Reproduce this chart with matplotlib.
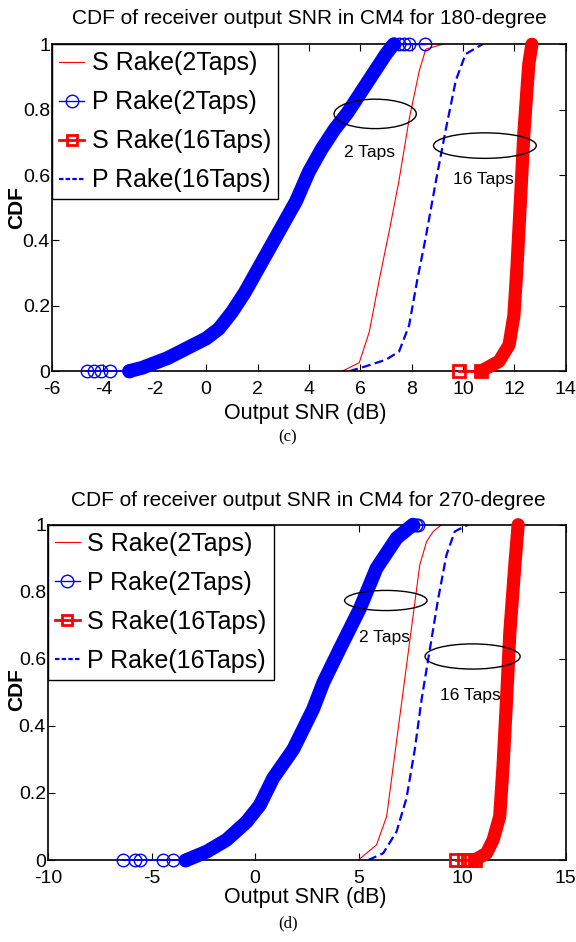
import matplotlib
matplotlib.use("Agg")
import matplotlib.pyplot as plt
from matplotlib.lines import Line2D
from matplotlib.patches import Ellipse

# ---- data (c): 180-degree ----
c_s2_x = [5.3, 5.96, 6.35, 6.74, 7.13, 7.5, 7.9, 8.3, 8.55, 9.2]
c_s2_y = [0, 0.026, 0.12, 0.28, 0.43, 0.58, 0.77, 0.92, 0.985, 1.0]

c_p2_x = [-3.0, -2.5, -2.0, -1.5, -1.0, -0.5, 0.0, 0.5, 1.0, 1.5, 2.0, 2.5,
          3.0, 3.5, 4.0, 4.5, 5.0, 5.5, 6.0, 6.5, 7.0, 7.3]
c_p2_y = [0.0, 0.01, 0.025, 0.04, 0.06, 0.08, 0.10, 0.13, 0.18, 0.24, 0.31,
          0.38, 0.45, 0.52, 0.61, 0.68, 0.74, 0.79, 0.85, 0.91, 0.97, 1.0]
c_p2_low = [-4.65, -4.35, -4.1, -3.75, -3.0]
c_p2_high = [7.3, 7.5, 7.7, 7.9, 8.5]

c_s16_x = [10.7, 11.4, 11.79, 11.98, 12.1, 12.24, 12.37, 12.56, 12.68]
c_s16_y = [0, 0.03, 0.08, 0.17, 0.32, 0.53, 0.73, 0.94, 1.0]
c_s16_low = [9.85, 10.7]

c_p16_x = [5.57, 6.22, 7.0, 7.51, 7.9, 8.22, 8.55, 8.94, 9.33, 9.72, 10.1, 10.75]
c_p16_y = [0, 0.015, 0.035, 0.06, 0.14, 0.28, 0.41, 0.58, 0.74, 0.89, 0.97, 1.0]

# ---- data (d): 270-degree ----
d_s2_x = [4.98, 5.86, 6.35, 6.67, 6.99, 7.31, 7.63, 7.95, 8.28, 8.6, 9.0]
d_s2_y = [0, 0.045, 0.13, 0.28, 0.43, 0.58, 0.73, 0.88, 0.95, 0.98, 1.0]

d_p2_x = [-3.31, -2.34, -1.38, -0.41, 0.23, 0.87, 1.84, 2.8, 3.3, 4.09, 5.06,
          5.86, 6.83, 7.62]
d_p2_y = [0, 0.025, 0.06, 0.114, 0.164, 0.244, 0.33, 0.45, 0.53, 0.63, 0.75,
          0.87, 0.96, 1.0]
d_p2_low = [-6.37, -5.8, -5.56, -4.44, -3.95, -3.39]
d_p2_high = [7.62, 7.75, 7.85]

d_s16_x = [10.6, 11.17, 11.49, 11.81, 11.97, 12.14, 12.3, 12.54, 12.7]
d_s16_y = [0, 0.02, 0.06, 0.13, 0.28, 0.48, 0.68, 0.88, 1.0]
d_s16_low = [9.7, 10.1, 10.4, 10.6]

d_p16_x = [5.46, 6.18, 6.83, 7.31, 7.71, 8.04, 8.44, 8.84, 9.24, 9.64, 10.29]
d_p16_y = [0, 0.02, 0.085, 0.185, 0.33, 0.48, 0.63, 0.78, 0.91, 0.98, 1.0]

labels = ["S Rake(2Taps)", "P Rake(2Taps)", "S Rake(16Taps)", "P Rake(16Taps)"]
y_ticks = [0, 0.2, 0.4, 0.6, 0.8, 1]
y_ticklabels = ["0", "0.2", "0.4", "0.6", "0.8", "1"]

arial = ["Liberation Sans", "DejaVu Sans"]
plt.rcParams["font.family"] = arial


def draw_panel(ax, s2, p2, p2_low, p2_high, s16, s16_low, p16, xlim, xticks,
               notes):
    # thin red line
    ax.plot(s2[0], s2[1], color="red", lw=0.8)
    # blue circle series: sparse tails with circles, dense part as a thick band
    ax.plot(p2_low, [0] * len(p2_low), color="blue", lw=1.2, marker="o",
            mfc="none", ms=9, mew=1.0, clip_on=False, zorder=3)
    ax.plot(p2[0], p2[1], color="blue", lw=10, solid_capstyle="round",
            solid_joinstyle="round", clip_on=False, zorder=3)
    ax.plot(p2_high, [1] * len(p2_high), color="blue", lw=1, marker="o",
            mfc="none", ms=9, mew=1.0, clip_on=False, zorder=3)
    # red square series
    ax.plot(s16_low, [0] * len(s16_low), color="red", lw=2, marker="s",
            mfc="none", ms=8, mew=2, clip_on=False, zorder=3)
    ax.plot(s16[0], s16[1], color="red", lw=9.5, solid_capstyle="round",
            solid_joinstyle="round", clip_on=False, zorder=3)
    # dashed blue
    ax.plot(p16[0], p16[1], color="blue", lw=1.6, ls=(0, (4, 2)))

    for (ex, ey, ew, eh), (tx, ty, tt) in notes:
        ax.add_patch(Ellipse((ex, ey), ew, eh, fill=False, ec="black", lw=1,
                             zorder=4))
        ax.text(tx, ty, tt, ha="center", va="center", fontsize=12.5, zorder=5)

    ax.set_xlim(*xlim)
    ax.set_ylim(0, 1)
    ax.set_xticks(xticks)
    ax.set_xticklabels([str(t) for t in xticks])
    ax.set_yticks(y_ticks)
    ax.set_yticklabels(y_ticklabels)
    ax.tick_params(direction="in", length=5, width=0.8, top=True, right=True,
                   labelsize=14)
    ax.tick_params(axis="x", pad=7)
    ax.tick_params(axis="y", pad=1.5)
    for sp in ax.spines.values():
        sp.set_linewidth(1.2)

    handles = [
        Line2D([], [], color="red", lw=0.8),
        Line2D([], [], color="blue", lw=1, marker="o", mfc="none", ms=9),
        Line2D([], [], color="red", lw=2, marker="s", mfc="none", ms=7, mew=2),
        Line2D([], [], color="blue", lw=1.6, ls=(0, (2, 1))),
    ]
    leg = ax.legend(handles, labels, loc="upper left", bbox_to_anchor=(0, 1),
                    borderaxespad=0, fancybox=False, edgecolor="black",
                    framealpha=1, handlelength=1.0, handletextpad=0.3,
                    labelspacing=0.6, borderpad=0.28,
                    prop={"size": 18})
    leg.get_frame().set_linewidth(1.0)


fig = plt.figure(figsize=(5.76, 9.42), dpi=100)

ax1 = fig.add_axes([0.0903, 0.606, 0.892, 0.347])
draw_panel(ax1, (c_s2_x, c_s2_y), (c_p2_x, c_p2_y), c_p2_low, c_p2_high,
           (c_s16_x, c_s16_y), c_s16_low, (c_p16_x, c_p16_y),
           (-6, 14), list(range(-6, 15, 2)),
           [((6.58, 0.787, 3.2, 0.09), (6.35, 0.669, "2 Taps")),
            ((10.85, 0.69, 4.0, 0.078), (10.81, 0.585, "16 Taps"))])

ax2 = fig.add_axes([0.0833, 0.087, 0.899, 0.356])
draw_panel(ax2, (d_s2_x, d_s2_y), (d_p2_x, d_p2_y), d_p2_low, d_p2_high,
           (d_s16_x, d_s16_y), d_s16_low, (d_p16_x, d_p16_y),
           (-10, 15), list(range(-10, 16, 5)),
           [((6.31, 0.774, 3.98, 0.06), (6.26, 0.663, "2 Taps")),
            ((10.5, 0.607, 4.59, 0.075), (10.37, 0.49, "16 Taps"))])

# titles, axis labels and captions placed as in the reference
fig.text(309 / 576, 1 - 18 / 942, "CDF of receiver output SNR in CM4 for 180-degree",
         ha="center", va="center", fontsize=15)
fig.text(308 / 576, 1 - 500 / 942, "CDF of receiver output SNR in CM4 for 270-degree",
         ha="center", va="center", fontsize=15)
for yy in (208, 690):
    fig.text(17 / 576, 1 - yy / 942, "CDF", rotation=90, ha="center",
             va="center", fontsize=15, fontweight="bold")
fig.text(305 / 576, 1 - 413 / 942, "Output SNR (dB)", ha="center", va="center",
         fontsize=15.5)
fig.text(305 / 576, 1 - 897 / 942, "Output SNR (dB)", ha="center", va="center",
         fontsize=15.5)
fig.text(288 / 576, 1 - 437 / 942, "(c)", ha="center", va="center",
         fontsize=12, family=["Liberation Serif", "DejaVu Serif"])
fig.text(288 / 576, 1 - 923 / 942, "(d)", ha="center", va="center",
         fontsize=12, family=["Liberation Serif", "DejaVu Serif"])

fig.savefig("out.png", dpi=100)
